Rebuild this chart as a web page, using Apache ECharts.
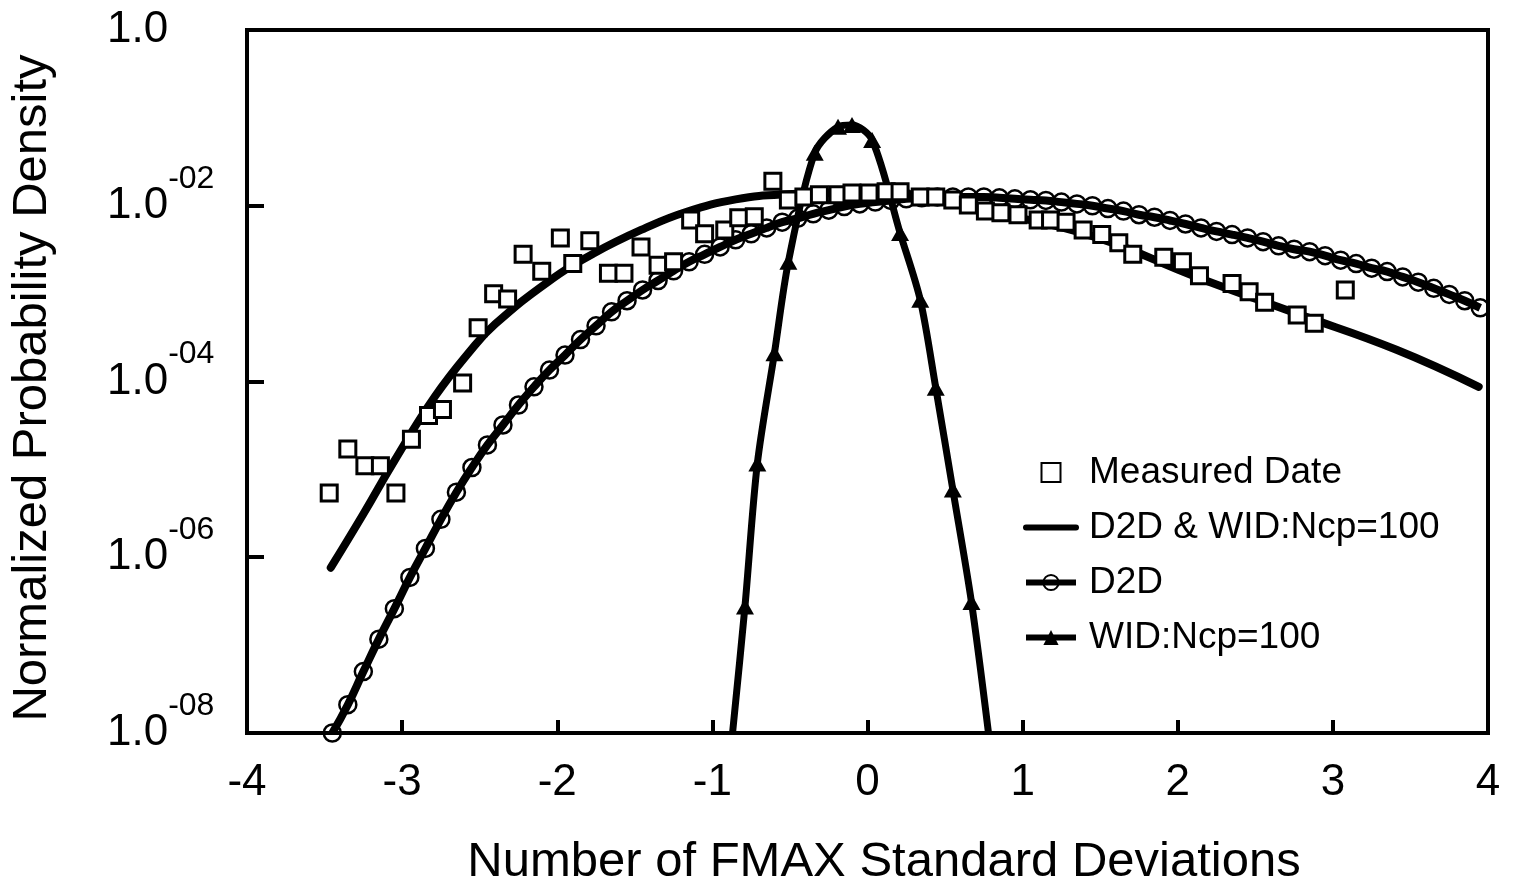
<!DOCTYPE html>
<html><head><meta charset="utf-8">
<script src="https://cdn.jsdelivr.net/npm/echarts@6/dist/echarts.min.js"></script>
<style>html,body{margin:0;padding:0;background:#fff}#chart{width:1513px;height:881px}</style>
</head><body><div id="chart"></div>
<script>
// ---- data ----
const xTickValues = [-4, -3, -2, -1, 0, 1, 2, 3, 4];
const yTickExponents = [0, -2, -4, -6, -8];

const measuredX = [-3.47,-3.35,-3.24,-3.14,-3.04,-2.94,-2.83,-2.74,-2.61,-2.51,-2.41,-2.32,-2.22,-2.10,-1.98,-1.90,-1.79,-1.67,-1.57,-1.46,-1.35,-1.25,-1.14,-1.05,-0.92,-0.83,-0.73,-0.61,-0.51,-0.41,-0.31,-0.19,-0.10,0.01,0.12,0.21,0.34,0.44,0.55,0.65,0.76,0.86,0.97,1.10,1.18,1.28,1.39,1.51,1.62,1.71,1.91,2.03,2.14,2.35,2.46,2.56,2.77,2.88,3.08];
const measuredY = [5.4e-6,1.7e-5,1.1e-5,1.1e-5,5.4e-6,2.2e-5,4.1e-5,4.8e-5,9.6e-5,4.1e-4,1.0e-3,8.7e-4,2.8e-3,1.8e-3,4.3e-3,2.2e-3,4.0e-3,1.7e-3,1.7e-3,3.4e-3,2.1e-3,2.3e-3,6.9e-3,4.8e-3,5.3e-3,7.3e-3,7.5e-3,1.9e-2,1.16e-2,1.26e-2,1.33e-2,1.33e-2,1.40e-2,1.40e-2,1.44e-2,1.44e-2,1.26e-2,1.26e-2,1.16e-2,1.02e-2,8.7e-3,8.3e-3,7.9e-3,6.9e-3,6.9e-3,6.5e-3,5.3e-3,4.7e-3,3.8e-3,2.8e-3,2.6e-3,2.3e-3,1.6e-3,1.3e-3,1.05e-3,8.0e-4,5.7e-4,4.6e-4,1.1e-3];

const combinedX = [-3.46,-3.25,-3.05,-2.79,-2.55,-2.40,-2.06,-1.76,-1.43,-1.17,-0.85,-0.53,-0.14,0.31,0.83,1.47,2.12,2.76,3.41,3.94];
const combinedY = [7.6e-7,3.1e-6,1.25e-5,6.7e-5,2.35e-4,4.5e-4,1.36e-3,2.9e-3,5.6e-3,8.5e-3,1.18e-2,1.35e-2,1.40e-2,1.29e-2,8.3e-3,4.4e-3,1.55e-3,6.0e-4,2.3e-4,8.7e-5];

const d2dX = [-3.45,-3.35,-3.25,-3.15,-3.05,-2.95,-2.85,-2.75,-2.65,-2.55,-2.45,-2.35,-2.25,-2.15,-2.05,-1.95,-1.85,-1.75,-1.65,-1.55,-1.45,-1.35,-1.25,-1.15,-1.05,-0.95,-0.85,-0.75,-0.65,-0.55,-0.45,-0.35,-0.25,-0.15,-0.05,0.05,0.15,0.25,0.35,0.45,0.55,0.65,0.75,0.85,0.95,1.05,1.15,1.25,1.35,1.45,1.55,1.65,1.75,1.85,1.95,2.05,2.15,2.25,2.35,2.45,2.55,2.65,2.75,2.85,2.95,3.05,3.15,3.25,3.35,3.45,3.55,3.65,3.75,3.85,3.95];
const d2dY = [1.0e-8,2.1e-8,5.0e-8,1.17e-7,2.6e-7,5.9e-7,1.26e-6,2.7e-6,5.5e-6,1.05e-5,1.9e-5,3.2e-5,5.4e-5,8.7e-5,1.35e-4,2.0e-4,3.0e-4,4.3e-4,6.2e-4,8.3e-4,1.10e-3,1.41e-3,1.82e-3,2.3e-3,2.8e-3,3.4e-3,4.1e-3,4.8e-3,5.6e-3,6.5e-3,7.2e-3,8.1e-3,8.9e-3,9.8e-3,1.05e-2,1.10e-2,1.15e-2,1.20e-2,1.23e-2,1.26e-2,1.26e-2,1.26e-2,1.26e-2,1.23e-2,1.20e-2,1.17e-2,1.15e-2,1.10e-2,1.05e-2,1.00e-2,9.3e-3,8.7e-3,7.9e-3,7.4e-3,6.8e-3,6.2e-3,5.6e-3,5.1e-3,4.7e-3,4.3e-3,3.9e-3,3.5e-3,3.2e-3,3.0e-3,2.7e-3,2.4e-3,2.2e-3,1.95e-3,1.78e-3,1.55e-3,1.35e-3,1.15e-3,9.8e-4,8.3e-4,6.9e-4];

const widX = [-0.87,-0.79,-0.71,-0.60,-0.51,-0.34,-0.19,-0.10,0.03,0.21,0.34,0.44,0.55,0.67,0.78];
const widY = [1.0e-8,2.75e-7,1.17e-5,2.1e-4,2.3e-3,4.0e-2,7.9e-2,8.3e-2,5.6e-2,4.9e-3,8.5e-4,8.5e-5,5.9e-6,3.1e-7,1.0e-8];

const seriesNames = ['Measured Date', 'D2D & WID:Ncp=100', 'D2D', 'WID:Ncp=100'];
const xTitle = 'Number of FMAX Standard Deviations';
const yTitle = 'Normalized Probability Density';

// ---- chart ----
const FONT = '"Liberation Sans", Arial, Helvetica, sans-serif';
const pairs = (xs, ys) => xs.map((x, i) => [x, ys[i]]);
const widData = widX.map((x, i) => (i === 0 || i === widX.length - 1)
  ? { value: [x, widY[i]], symbol: 'none' } : [x, widY[i]]);

const chart = echarts.init(document.getElementById('chart'));
chart.setOption({
  animation: false,
  backgroundColor: '#fff',
  grid: {
    left: 247, right: 25, top: 30, bottom: 148, outerBoundsMode: 'none', containLabel: false,
    show: true, borderColor: '#000', borderWidth: 4, backgroundColor: 'transparent'
  },
  legend: {
    orient: 'vertical', left: 1018, top: 449, itemWidth: 50, itemHeight: 19, itemGap: 18,
    data: [
      { name: seriesNames[0], icon: 'path://M0,0L10,0L10,10L0,10Z' },
      { name: seriesNames[1], itemStyle: { opacity: 0 } },
      { name: seriesNames[2] },
      { name: seriesNames[3] }
    ],
    lineStyle: { width: 6 },
    textStyle: { fontSize: 37, fontFamily: FONT, color: '#000', padding: [0, 0, 0, 8] },
    selectedMode: false
  },
  xAxis: {
    type: 'value', min: xTickValues[0], max: xTickValues[xTickValues.length - 1], interval: 1,
    axisLine: { show: false, onZero: false },
    axisTick: { inside: true, length: 13, lineStyle: { color: '#000', width: 4 } },
    splitLine: { show: false },
    axisLabel: { margin: 28, fontSize: 44, color: '#000', fontFamily: FONT },
    name: xTitle, nameLocation: 'middle', nameGap: 105,
    nameTextStyle: { fontSize: 49, color: '#000', fontFamily: FONT, padding: [0, 0, 0, 33] }
  },
  yAxis: {
    type: 'log', logBase: 10,
    min: Math.pow(10, yTickExponents[yTickExponents.length - 1]), max: Math.pow(10, yTickExponents[0]), interval: 2,
    axisLine: { show: false, onZero: false },
    axisTick: { inside: true, length: 17, lineStyle: { color: '#000', width: 4 } },
    splitLine: { show: false },
    axisLabel: {
      margin: 140, align: 'left',
      formatter: v => {
        const e = Math.round(Math.log10(v));
        if (e === 0) return '{b|1.0}';
        const a = Math.abs(e);
        return '{b|1.0}{s|-' + (a < 10 ? '0' + a : a) + '}';
      },
      rich: {
        b: { fontSize: 44, fontFamily: FONT, color: '#000' },
        s: { fontSize: 32, fontFamily: FONT, color: '#000', padding: [0, 0, 54, 0] }
      }
    },
    name: yTitle, nameLocation: 'middle', nameGap: 190,
    nameTextStyle: { fontSize: 49, color: '#000', fontFamily: FONT, padding: [0, 13, 0, 0] }
  },
  series: [
    {
      name: seriesNames[1], type: 'line', data: pairs(combinedX, combinedY),
      smooth: 0.45, symbol: 'none', lineStyle: { color: '#000', width: 8, cap: 'round' }, itemStyle: { color: '#000' }, z: 2
    },
    {
      name: seriesNames[2], type: 'line', data: pairs(d2dX, d2dY),
      smooth: true, symbol: 'circle', symbolSize: 17, showSymbol: true,
      lineStyle: { color: '#000', width: 8 },
      itemStyle: { color: 'transparent', borderColor: '#000', borderWidth: 2.5 }, z: 3
    },
    {
      name: seriesNames[3], type: 'line', data: widData,
      smooth: 0.3, symbol: 'triangle', symbolSize: [18, 16],
      lineStyle: { color: '#000', width: 7 }, itemStyle: { color: '#000' }, z: 3
    },
    {
      name: seriesNames[0], type: 'scatter', data: pairs(measuredX, measuredY),
      symbol: 'rect', symbolSize: 16,
      itemStyle: { color: '#fff', borderColor: '#000', borderWidth: 3, opacity: 1 }, z: 5
    }
  ]
});
</script></body></html>
